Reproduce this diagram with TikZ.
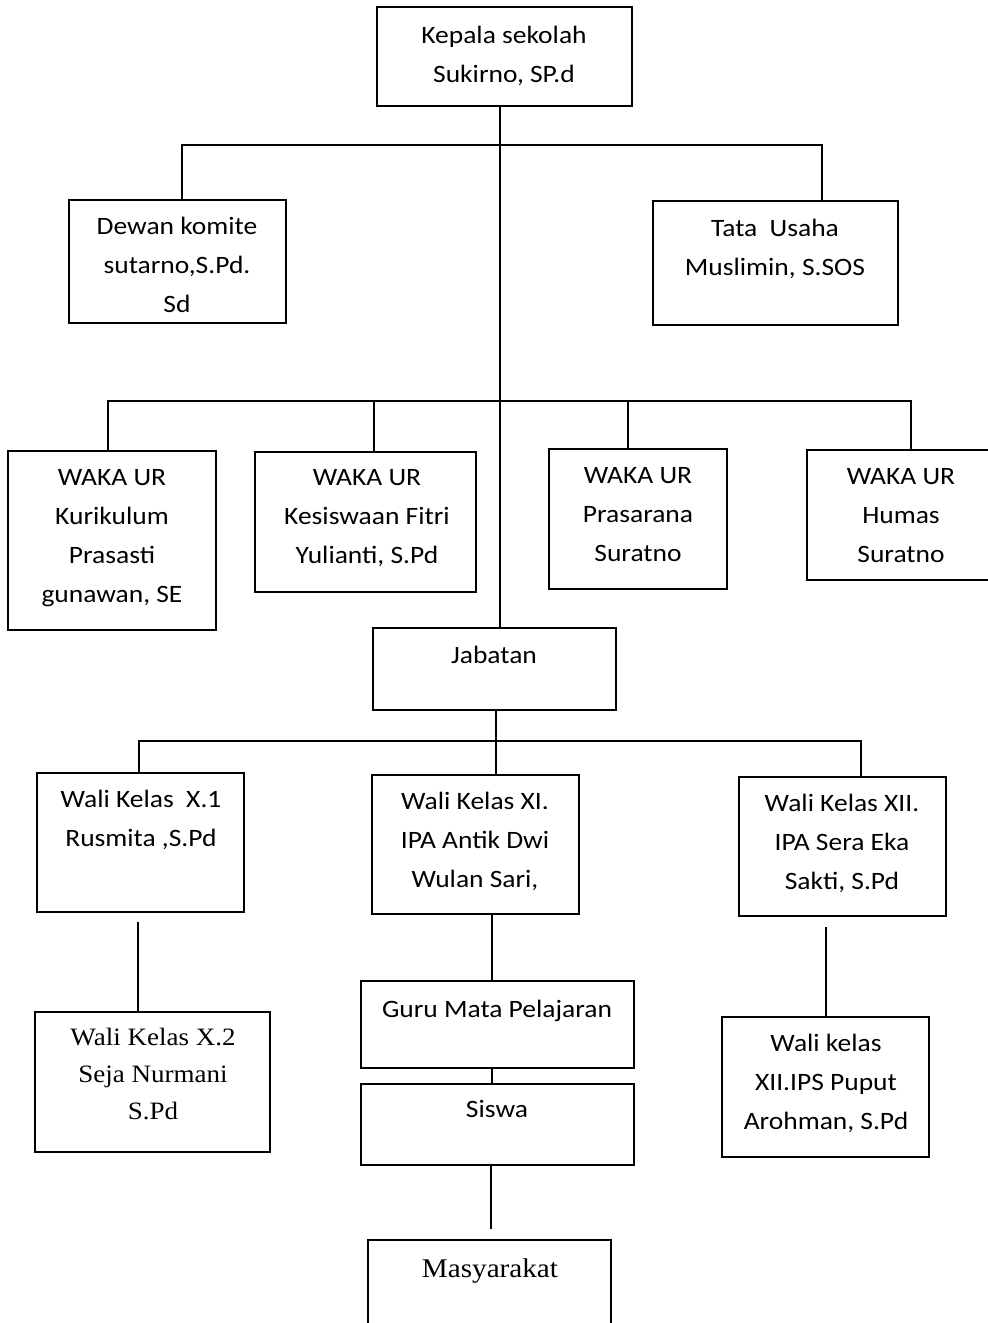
\documentclass[tikz,border=0pt]{standalone}
\usepackage{fontspec}
\setmainfont{Carlito}[FakeStretch=1.1]
\newfontfamily\serifface{Liberation Serif}[FakeStretch=1.08]
\begin{document}
\begin{tikzpicture}[x=1pt,y=-1pt,
  box/.style={draw=black, line width=1.6pt, inner sep=0pt},
  lbl/.style={anchor=north, align=center, inner sep=0pt, font=\fontsize{25}{39}\selectfont},
  slbl/.style={anchor=north, align=center, inner sep=0pt, font=\serifface\fontsize{25}{37}\selectfont},
  conn/.style={draw=black, line width=1.3pt}]
\useasboundingbox (0,0) rectangle (988,1323);
\fill[white] (0,0) rectangle (988,1323);
% boxes
\node[box, minimum width=255pt, minimum height=99pt] (kep) at (504.5,56.5) {};
\node[box, minimum width=217pt, minimum height=123pt] (dew) at (177.5,261.5) {};
\node[box, minimum width=245pt, minimum height=124pt] (tu) at (775.5,263) {};
\node[box, minimum width=208pt, minimum height=179pt] (w1) at (112,540.5) {};
\node[box, minimum width=221pt, minimum height=140pt] (w2) at (365.5,522) {};
\node[box, minimum width=178pt, minimum height=140pt] (w3) at (638,519) {};
\node[box, minimum width=185pt, minimum height=130pt] (w4) at (899.5,515) {};
\node[box, minimum width=243pt, minimum height=82pt] (jab) at (494.5,669) {};
\node[box, minimum width=207pt, minimum height=139pt] (x1) at (140.5,842.5) {};
\node[box, minimum width=207pt, minimum height=139pt] (xi) at (475.5,844.5) {};
\node[box, minimum width=207pt, minimum height=139pt] (xii) at (842.5,846.5) {};
\node[box, minimum width=235pt, minimum height=140pt] (x2) at (152.5,1082) {};
\node[box, minimum width=273pt, minimum height=87pt] (guru) at (497.5,1024.5) {};
\node[box, minimum width=273pt, minimum height=81pt] (sis) at (497.5,1124.5) {};
\node[box, minimum width=207pt, minimum height=140pt] (ips) at (825.5,1087) {};
\node[box, minimum width=243pt, minimum height=90pt] (mas) at (489.5,1285) {};
% texts
\node[lbl] (kep-t) at (504,16) {\strut Kepala sekolah\\Sukirno, SP.d};
\node[lbl] (dew-t) at (177,207) {\strut Dewan komite\\sutarno,S.Pd.\\Sd};
\node[lbl] (tu-t) at (775,209) {\strut Tata\ \ Usaha\\Muslimin, S.SOS};
\node[lbl] (w1-t) at (112,458) {\strut WAKA UR\\Kurikulum\\Prasasti\\gunawan, SE};
\node[lbl] (w2-t) at (367,458) {\strut WAKA UR\\Kesiswaan Fitri\\Yulianti, S.Pd};
\node[lbl] (w3-t) at (638,456) {\strut WAKA UR\\Prasarana\\Suratno};
\node[lbl] (w4-t) at (901,457) {\strut WAKA UR\\Humas\\Suratno};
\node[lbl] (jab-t) at (494,636) {\strut Jabatan};
\node[lbl] (x1-t) at (141,780) {\strut Wali Kelas\ \ X.1\\Rusmita ,S.Pd};
\node[lbl] (xi-t) at (475,782) {\strut Wali Kelas XI.\\IPA Antik Dwi\\Wulan Sari,};
\node[lbl] (xii-t) at (842,784) {\strut Wali Kelas XII.\\IPA Sera Eka\\Sakti, S.Pd};
\node[slbl] (x2-t) at (153,1019) {\strut Wali Kelas X.2\\Seja Nurmani\\S.Pd};
\node[lbl] (guru-t) at (497,990) {\strut Guru Mata Pelajaran};
\node[lbl] (sis-t) at (497,1090) {\strut Siswa};
\node[lbl] (ips-t) at (826,1024) {\strut Wali kelas\\XII.IPS Puput\\Arohman, S.Pd};
\node[slbl, font=\serifface\fontsize{27}{39}\selectfont] (mas-t) at (490,1250) {\strut Masyarakat};
% junction coordinates
\coordinate (tr) at (500,145);
\coordinate (b1) at (182,145);
\coordinate (b2) at (822,145);
\coordinate (c1) at (108,401);
\coordinate (c2) at (374,401);
\coordinate (c3) at (628,401);
\coordinate (c4) at (911,401);
\coordinate (d1) at (139,741);
\coordinate (d2) at (496,741);
\coordinate (d3) at (861,741);
\coordinate (e1) at (138,922);
\coordinate (e3) at (826,927);
\coordinate (g) at (492,950);
\coordinate (m1) at (491,1229);
% connectors
\draw[conn] (kep.south -| tr) -- (jab.north -| tr);
\draw[conn] (dew.north -| b1) -- (b1) -- (b2) -- (tu.north -| b2);
\draw[conn] (w1.north -| c1) -- (c1) -- (c4) -- (w4.north -| c4);
\draw[conn] (c2) -- (w2.north -| c2);
\draw[conn] (c3) -- (w3.north -| c3);
\draw[conn] (jab.south -| d2) -- (d2);
\draw[conn] (x1.north -| d1) -- (d1) -- (d3) -- (xii.north -| d3);
\draw[conn] (d2) -- (xi.north -| d2);
\draw[conn] (e1) -- (x2.north -| e1);
\draw[conn] (e3) -- (ips.north -| e3);
\draw[conn] (xi.south -| g) -- (guru.north -| g);
\draw[conn] (guru.south -| g) -- (sis.north -| g);
\draw[conn] (sis.south -| m1) -- (m1);
\end{tikzpicture}
\end{document}
